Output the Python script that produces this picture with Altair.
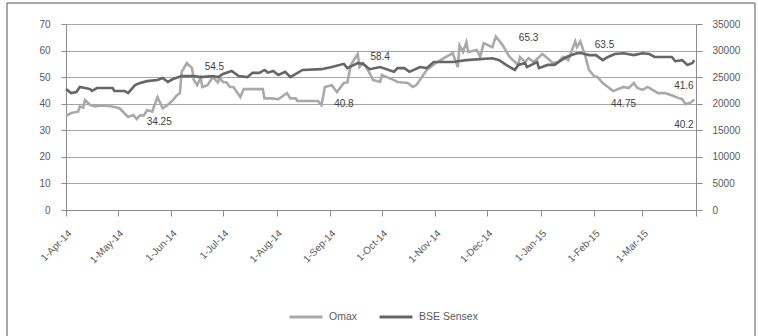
import altair as alt
import pandas as pd

# ---------------- data ----------------
omax_dates = [
    "2014-04-01", "2014-04-04", "2014-04-08", "2014-04-09", "2014-04-11", "2014-04-12",
    "2014-04-15", "2014-04-18", "2014-04-21", "2014-04-25", "2014-04-29", "2014-05-02",
    "2014-05-07", "2014-05-10", "2014-05-12", "2014-05-14", "2014-05-16", "2014-05-18",
    "2014-05-21", "2014-05-22", "2014-05-24", "2014-05-27", "2014-05-30", "2014-06-02",
    "2014-06-04", "2014-06-06", "2014-06-07", "2014-06-10", "2014-06-13", "2014-06-14",
    "2014-06-16", "2014-06-18", "2014-06-19", "2014-06-22", "2014-06-25", "2014-06-28",
    "2014-06-29", "2014-07-01", "2014-07-03", "2014-07-05", "2014-07-07", "2014-07-09",
    "2014-07-11", "2014-07-13", "2014-07-18", "2014-07-24", "2014-07-25", "2014-07-29",
    "2014-08-02", "2014-08-07", "2014-08-09", "2014-08-12", "2014-08-13", "2014-08-25",
    "2014-08-27", "2014-08-29", "2014-09-02", "2014-09-05", "2014-09-09", "2014-09-11",
    "2014-09-13", "2014-09-17", "2014-09-18", "2014-09-20", "2014-09-22", "2014-09-26",
    "2014-09-30", "2014-10-01", "2014-10-08", "2014-10-10", "2014-10-16", "2014-10-19",
    "2014-10-21", "2014-10-27", "2014-11-02", "2014-11-05", "2014-11-11", "2014-11-14",
    "2014-11-15", "2014-11-17", "2014-11-19", "2014-11-20", "2014-11-25", "2014-11-27",
    "2014-11-29", "2014-12-04", "2014-12-06", "2014-12-10", "2014-12-14", "2014-12-19",
    "2014-12-20", "2014-12-23", "2014-12-25", "2014-12-28", "2015-01-02", "2015-01-05",
    "2015-01-08", "2015-01-11", "2015-01-14", "2015-01-17", "2015-01-21", "2015-01-22",
    "2015-01-24", "2015-01-27", "2015-01-29", "2015-02-01", "2015-02-03", "2015-02-06",
    "2015-02-12", "2015-02-18", "2015-02-21", "2015-02-24", "2015-02-26", "2015-03-01",
    "2015-03-04", "2015-03-10", "2015-03-14", "2015-03-19", "2015-03-22", "2015-03-24",
    "2015-03-26", "2015-03-29", "2015-03-31",
]
omax_values = [
    35.4, 36.5, 37.0, 39.0, 38.5, 41.4,
    39.5, 39.0, 39.3, 39.2, 38.8, 38.3,
    35.0, 35.7, 34.25, 35.7, 35.5, 37.6,
    37.0, 39.0, 42.5, 38.3, 39.5, 41.4,
    43.0, 44.0, 52.0, 55.3, 53.4, 49.0,
    47.0, 49.7, 46.3, 47.0, 50.0, 48.0,
    49.7, 48.2, 48.0, 46.3, 46.3, 44.4,
    42.5, 45.5, 45.5, 45.5, 42.0, 42.0,
    41.7, 44.0, 42.0, 42.0, 41.0, 41.0,
    39.5, 46.3, 47.0, 44.4, 47.8, 48.0,
    54.6, 58.7, 53.8, 55.3, 53.8, 48.9,
    48.2, 50.8, 48.9, 48.2, 47.8, 46.3,
    47.0, 52.7, 55.7, 56.8, 59.0, 53.8,
    62.0, 59.5, 63.2, 59.5, 60.2, 57.6,
    62.8, 61.3, 65.3, 62.0, 57.6, 54.6,
    57.6, 55.7, 57.1, 55.7, 58.7, 57.1,
    55.3, 55.7, 57.6, 56.4, 63.5, 61.3,
    63.5, 57.6, 52.7, 50.4, 50.0, 47.8,
    44.75, 46.3, 45.9, 47.8, 45.9, 45.2,
    46.3, 44.0, 44.0, 42.9, 42.1, 41.7,
    39.8, 40.5, 41.6,
]

sensex_dates = [
    "2014-04-01", "2014-04-04", "2014-04-07", "2014-04-09", "2014-04-12", "2014-04-15",
    "2014-04-16", "2014-04-19", "2014-04-28", "2014-04-29", "2014-05-05", "2014-05-07",
    "2014-05-11", "2014-05-14", "2014-05-18", "2014-05-24", "2014-05-27", "2014-05-30",
    "2014-06-02", "2014-06-07", "2014-06-14", "2014-06-18", "2014-06-25", "2014-06-28",
    "2014-07-01", "2014-07-06", "2014-07-10", "2014-07-15", "2014-07-18", "2014-07-22",
    "2014-07-25", "2014-07-27", "2014-07-30", "2014-08-02", "2014-08-06", "2014-08-09",
    "2014-08-16", "2014-08-27", "2014-09-02", "2014-09-09", "2014-09-11", "2014-09-17",
    "2014-09-20", "2014-09-24", "2014-09-30", "2014-10-08", "2014-10-10", "2014-10-14",
    "2014-10-17", "2014-10-23", "2014-10-27", "2014-10-31", "2014-11-11", "2014-11-19",
    "2014-12-04", "2014-12-08", "2014-12-12", "2014-12-17", "2014-12-19", "2014-12-23",
    "2014-12-24", "2014-12-30", "2014-12-31", "2015-01-05", "2015-01-09", "2015-01-13",
    "2015-01-16", "2015-01-19", "2015-01-22", "2015-01-25", "2015-01-29", "2015-02-02",
    "2015-02-06", "2015-02-09", "2015-02-13", "2015-02-18", "2015-02-24", "2015-03-01",
    "2015-03-05", "2015-03-08", "2015-03-15", "2015-03-18", "2015-03-20", "2015-03-24",
    "2015-03-27", "2015-03-30", "2015-03-31",
]
sensex_values = [
    22750, 22000, 22200, 23150, 22950, 22750,
    22400, 22950, 22950, 22400, 22400, 22000,
    23500, 23900, 24250, 24450, 24850, 24100,
    24650, 25200, 25200, 25000, 25200, 25000,
    25600, 26150, 25200, 25000, 25800, 25800,
    26350, 25850, 26150, 25400, 26000, 25000,
    26350, 26500, 26900, 27500, 26700, 27650,
    27500, 26500, 26900, 26000, 26700, 26700,
    26000, 26900, 26700, 27850, 27850, 28200,
    28550, 28200, 27300, 26350, 27300, 27650,
    26900, 27850, 26700, 27300, 27300, 28200,
    28800, 29150, 29500, 29500, 29150, 29150,
    28200, 28800, 29350, 29500, 29150, 29500,
    29350, 28800, 28800, 28800, 28000, 28200,
    27300, 27650, 28200,
]

label_texts = ["34.25", "54.5", "40.8", "58.4", "65.3", "63.5", "44.75", "41.6", "40.2"]
label_dates = ["2014-05-25", "2014-06-26", "2014-09-09", "2014-09-30", "2014-12-25",
               "2015-02-07", "2015-02-18", "2015-03-25", "2015-03-25"]
label_values = [33.1, 53.8, 39.9, 57.6, 64.7, 62.1, 39.9, 46.7, 32.0]

series_names = ["Omax", "BSE Sensex"]
series_colors = ["#a9a9a9", "#666666"]

left_ticks = [0, 10, 20, 30, 40, 50, 60, 70]
right_ticks = [0, 5000, 10000, 15000, 20000, 25000, 30000, 35000]

month_ticks = pd.date_range("2014-04-01", "2015-04-01", freq="MS")
tick_ms = [int(t.value // 10**6) for t in month_ticks]
last_tick_ms = tick_ms[-1]

# ---------------- tables ----------------
omax_df = pd.DataFrame({"date": omax_dates, "value": omax_values, "series": "Omax"})
sensex_df = pd.DataFrame({"date": sensex_dates, "value": sensex_values, "series": "BSE Sensex"})
labels_df = pd.DataFrame({"date": label_dates, "value": label_values, "text": label_texts})

FONT = "Liberation Sans"
AXIS_GRAY = "#8c8c8c"
LABEL_GRAY = "#595959"

x_scale = alt.Scale(type="utc", domain=[tick_ms[0], tick_ms[-1]], nice=False)
x_axis = alt.Axis(
    title=None, grid=False, values=tick_ms,
    labelExpr=f"datum.value >= {last_tick_ms} ? '' : utcFormat(datum.value, '%-d-%b-%y')",
    labelAngle=-45, labelAlign="right", labelBaseline="top", labelPadding=12,
    labelFont=FONT, labelFontSize=10, labelColor=LABEL_GRAY,
    tickSize=6, tickColor=AXIS_GRAY, domainColor=AXIS_GRAY,
    labelOverlap=False, labelFlush=False,
)

left_scale = alt.Scale(domain=[0, 70], nice=False, zero=True)
left_axis = alt.Axis(
    title=None, values=left_ticks, tickCount=8, grid=True, gridColor="#a6a6a6",
    gridWidth=1, tickSize=5, tickColor=AXIS_GRAY, domainColor=AXIS_GRAY,
    labelPadding=11, labelFont=FONT, labelFontSize=10, labelColor=LABEL_GRAY,
    labelOverlap=False, labelFlush=False,
)

color_enc = alt.Color(
    "series:N",
    scale=alt.Scale(domain=series_names, range=series_colors),
    legend=alt.Legend(
        title=None, orient="none", legendX=222, legendY=275, direction="horizontal",
        symbolType="stroke", symbolSize=1089, symbolStrokeWidth=3,
        labelFont=FONT, labelFontSize=10.5, labelColor=LABEL_GRAY,
        labelOffset=5, columnPadding=15, padding=0,
    ),
)

omax_line = alt.Chart(omax_df).mark_line(strokeWidth=2.6).encode(
    x=alt.X("date:T", scale=x_scale, axis=x_axis),
    y=alt.Y("value:Q", scale=left_scale, axis=left_axis),
    color=color_enc,
)

label_layer = alt.Chart(labels_df).mark_text(
    font=FONT, fontSize=10, color="#404040", align="center", baseline="middle"
).encode(
    x=alt.X("date:T", scale=x_scale, axis=x_axis),
    y=alt.Y("value:Q", scale=left_scale, axis=left_axis),
    text="text:N",
)

left = alt.layer(omax_line, label_layer)

sensex_line = alt.Chart(sensex_df).mark_line(strokeWidth=2.6).encode(
    x=alt.X("date:T", scale=x_scale, axis=x_axis),
    y=alt.Y(
        "value:Q",
        scale=alt.Scale(domain=[0, 35000], nice=False, zero=True),
        axis=alt.Axis(
            title=None, orient="right", values=right_ticks, grid=False,
            tickSize=6, tickColor=AXIS_GRAY, domainColor=AXIS_GRAY, format="d",
            labelPadding=10, labelFont=FONT, labelFontSize=10, labelColor=LABEL_GRAY,
            labelOverlap=False, labelFlush=False,
        ),
    ),
    color=alt.Color("series:N"),
)

frame = alt.Chart(pd.DataFrame({"k": [0]})).mark_rect(
    fill=None, stroke="#555555", strokeWidth=1
).encode(
    x=alt.value(-59), x2=alt.value(689), y=alt.value(-21), y2=alt.value(340)
)

chart = alt.layer(frame, left, sensex_line).resolve_scale(y="independent").properties(
    width=630, height=186,
    autosize=alt.AutoSizeParams(type="none"),
    padding={"left": 66, "top": 24, "right": 62, "bottom": 126},
    background="white",
).configure_view(stroke=None)

chart.save("out.html", embed_options={"renderer": "svg", "actions": False})
